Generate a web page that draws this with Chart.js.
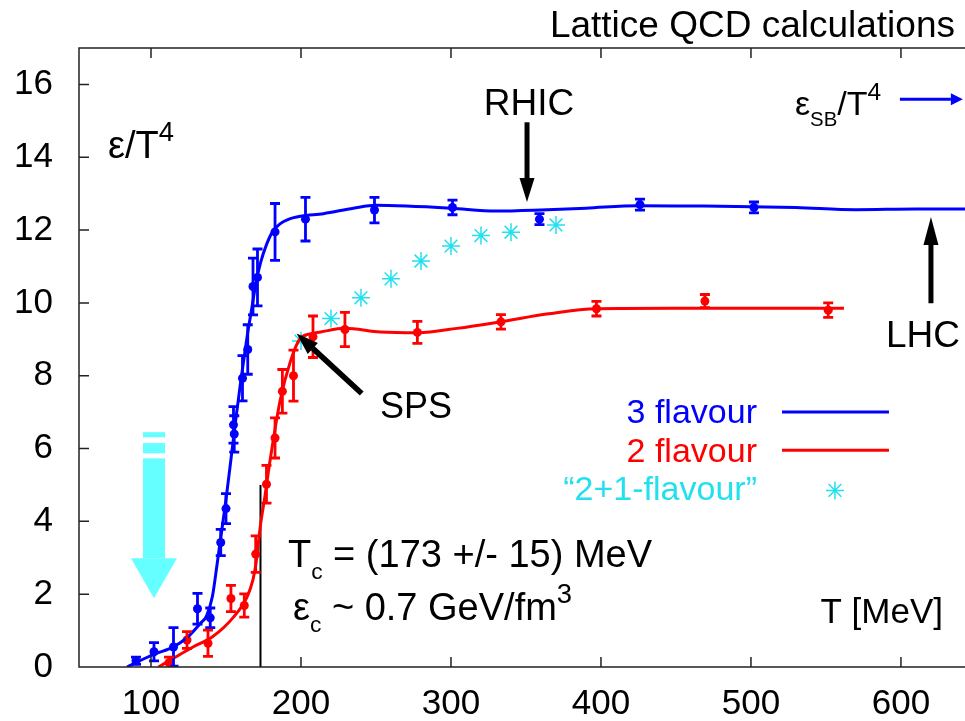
<!DOCTYPE html>
<html>
<head>
<meta charset="utf-8">
<script src="https://cdn.jsdelivr.net/npm/chart.js@4.4.1/dist/chart.umd.min.js"></script>
<style>
html, body { margin: 0; padding: 0; background: #fff; overflow: hidden; }
#chart { display: block; }
</style>
</head>
<body>
<canvas id="chart" width="965" height="721"></canvas>
<script>
// Energy density eps/T^4 vs temperature T from lattice QCD
const xTicks = [100, 200, 300, 400, 500, 600];
const yTicks = [0, 2, 4, 6, 8, 10, 12, 14, 16];

// 3 flavour lattice points
const blueT   = [90, 102, 115, 131, 139.5, 146.5, 150, 155, 155.5, 161, 164.5, 168, 171, 182.7, 203, 249, 301, 359, 426, 502];
const blueE   = [0.17, 0.42, 0.55, 1.6, 1.35, 3.42, 4.35, 6.65, 6.4, 7.93, 8.72, 10.45, 10.7, 11.95, 12.3, 12.55, 12.62, 12.3, 12.7, 12.62];
const blueErr = [0.1, 0.25, 0.53, 0.42, 0.27, 0.36, 0.41, 0.5, 0.5, 0.62, 0.68, 0.78, 0.78, 0.78, 0.6, 0.35, 0.2, 0.15, 0.15, 0.15];

// 3 flavour fit curve
const blueFitT = [84, 95, 104, 112, 119, 126, 133, 137, 141, 144, 147, 150, 153, 157, 160, 164, 167, 170, 173, 177, 181, 186, 192, 200, 215, 235, 250, 270, 300, 330, 360, 390, 425, 460, 490, 530, 570, 610, 645];
const blueFitE = [0, 0.22, 0.38, 0.5, 0.65, 0.88, 1.2, 1.4, 1.95, 2.8, 3.7, 4.6, 5.6, 6.95, 7.9, 9.05, 9.8, 10.55, 11.1, 11.6, 11.95, 12.17, 12.3, 12.38, 12.45, 12.6, 12.68, 12.66, 12.6, 12.52, 12.55, 12.6, 12.67, 12.66, 12.65, 12.62, 12.56, 12.58, 12.58];

// 2 flavour lattice points
const redT   = [112, 124, 138, 153.3, 162.2, 169.8, 177, 182.7, 187.6, 195, 208, 229.3, 277.6, 333.3, 397, 469.3, 551.5];
const redE   = [0.12, 0.74, 0.65, 1.88, 1.69, 3.1, 5.02, 6.29, 7.57, 8.0, 9.07, 9.27, 9.19, 9.48, 9.84, 10.05, 9.8];
const redErr = [0.15, 0.23, 0.36, 0.36, 0.32, 0.5, 0.52, 0.55, 0.6, 0.7, 0.57, 0.47, 0.3, 0.2, 0.2, 0.18, 0.2];

// 2 flavour fit curve
const redFitT = [105, 115, 128, 141, 155, 164, 168, 170, 173, 176, 179, 186, 193, 199, 206, 213, 229, 253, 278, 304, 333, 365, 397, 448, 500, 562];
const redFitE = [0, 0.24, 0.55, 0.83, 1.37, 1.92, 2.4, 2.85, 3.9, 4.7, 5.57, 7.3, 8.4, 9.0, 9.15, 9.2, 9.3, 9.2, 9.18, 9.3, 9.48, 9.7, 9.84, 9.85, 9.85, 9.85];

// "2+1-flavour" points
const starT = [200, 220, 240, 260, 280, 300, 320, 340, 370];
const starE = [8.95, 9.57, 10.14, 10.66, 11.15, 11.56, 11.85, 11.94, 12.14];

// critical temperature marker
const tcT = 173;
const tcTop = 5.0;

const FONT = "'Liberation Sans', Arial, sans-serif";
const BLUE = '#0000ff';
const RED = '#ff0000';
const CYAN = '#22e0ee';

const pts = (xs, ys) => xs.map((v, i) => ({ x: v, y: ys[i] }));

const errorBars = {
  id: 'errorBars',
  afterDatasetsDraw(chart) {
    const { ctx, chartArea, scales: { x, y } } = chart;
    ctx.save();
    ctx.beginPath();
    ctx.rect(chartArea.left, chartArea.top, chartArea.right - chartArea.left, chartArea.bottom - chartArea.top);
    ctx.clip();
    chart.data.datasets.forEach(ds => {
      if (!ds.errors) return;
      ctx.strokeStyle = ds.borderColor;
      ctx.lineWidth = 2.8;
      ds.data.forEach((p, i) => {
        const px = x.getPixelForValue(p.x);
        const lo = y.getPixelForValue(p.y - ds.errors[i]);
        const hi = y.getPixelForValue(p.y + ds.errors[i]);
        ctx.beginPath();
        ctx.moveTo(px, lo); ctx.lineTo(px, hi);
        ctx.moveTo(px - 5, lo); ctx.lineTo(px + 5, lo);
        ctx.moveTo(px - 5, hi); ctx.lineTo(px + 5, hi);
        ctx.stroke();
      });
    });
    ctx.restore();
  }
};

// text with sub/superscripts: parts = [[text, mode]], mode 0 normal, 1 sub, 2 sup
function richText(ctx, x, y, parts, size, color, align) {
  ctx.save();
  ctx.fillStyle = color;
  ctx.textBaseline = 'alphabetic';
  ctx.textAlign = 'left';
  const sz = m => (m === 1 ? size * 0.6 : m === 2 ? size * 0.72 : size);
  let total = 0;
  parts.forEach(([t, m]) => { ctx.font = sz(m) + 'px ' + FONT; total += ctx.measureText(t).width; });
  let cx = align === 'right' ? x - total : align === 'center' ? x - total / 2 : x;
  parts.forEach(([t, m]) => {
    ctx.font = sz(m) + 'px ' + FONT;
    const dy = m === 1 ? size * 0.3 : m === 2 ? -size * 0.45 : 0;
    ctx.fillText(t, cx, y + dy);
    cx += ctx.measureText(t).width;
  });
  ctx.restore();
}

function arrow(ctx, x1, y1, x2, y2, lw, headLen, headW, color) {
  const a = Math.atan2(y2 - y1, x2 - x1);
  const bx = x2 - Math.cos(a) * headLen, by = y2 - Math.sin(a) * headLen;
  ctx.save();
  ctx.strokeStyle = color; ctx.fillStyle = color; ctx.lineWidth = lw;
  ctx.beginPath(); ctx.moveTo(x1, y1); ctx.lineTo(bx, by); ctx.stroke();
  ctx.beginPath();
  ctx.moveTo(x2, y2);
  ctx.lineTo(bx + Math.sin(a) * headW / 2, by - Math.cos(a) * headW / 2);
  ctx.lineTo(bx - Math.sin(a) * headW / 2, by + Math.cos(a) * headW / 2);
  ctx.closePath(); ctx.fill();
  ctx.restore();
}

const decorations = {
  id: 'decorations',
  beforeDatasetsDraw(chart) {
    const { ctx, scales: { x, y } } = chart;
    // Tc vertical line
    ctx.save();
    ctx.strokeStyle = '#000'; ctx.lineWidth = 2;
    ctx.beginPath();
    ctx.moveTo(x.getPixelForValue(tcT), y.getPixelForValue(0));
    ctx.lineTo(x.getPixelForValue(tcT), y.getPixelForValue(tcTop));
    ctx.stroke();
    ctx.restore();
  },
  afterDraw(chart) {
    const { ctx, chartArea: a, scales: { x, y } } = chart;
    const X = v => x.getPixelForValue(v), Y = v => y.getPixelForValue(v);

    // frame with inward ticks
    ctx.save();
    ctx.strokeStyle = '#222'; ctx.lineWidth = 1.5;
    ctx.beginPath();
    ctx.moveTo(a.right + 2, a.top); ctx.lineTo(a.left, a.top);
    ctx.lineTo(a.left, a.bottom); ctx.lineTo(a.right + 2, a.bottom);
    x.ticks.forEach(t => {
      const px = X(t.value);
      ctx.moveTo(px, a.bottom); ctx.lineTo(px, a.bottom - 10);
      ctx.moveTo(px, a.top); ctx.lineTo(px, a.top + 10);
    });
    y.ticks.forEach(t => {
      const py = Y(t.value);
      ctx.moveTo(a.left, py); ctx.lineTo(a.left + 10, py);
    });
    ctx.stroke();
    ctx.restore();

    // title
    richText(ctx, 955, 37, [['Lattice QCD calculations', 0]], 37, '#000', 'right');

    // axis labels
    richText(ctx, X(71.3), Y(13.97), [['ε/T', 0], ['4', 2]], 38, '#000', 'left');
    richText(ctx, X(628), Y(1.2), [['T [MeV]', 0]], 35, '#000', 'right');

    // RHIC
    richText(ctx, X(352), Y(15.15), [['RHIC', 0]], 37, '#000', 'center');
    arrow(ctx, X(350.7), Y(14.96), X(350.7), Y(12.77), 5, 24, 15, '#000');

    // LHC
    richText(ctx, X(614.7), Y(8.78), [['LHC', 0]], 37, '#000', 'center');
    arrow(ctx, X(620), Y(9.99), X(620), Y(12.36), 5, 28, 15, '#000');

    // SPS
    richText(ctx, X(252.7), Y(6.83), [['SPS', 0]], 36, '#000', 'left');
    arrow(ctx, X(240.5), Y(7.51), X(197.1), Y(9.16), 5.5, 22, 15, '#000');

    // Stefan-Boltzmann limit
    richText(ctx, X(529.3), Y(15.15), [['ε', 0], ['SB', 1], ['/T', 0], ['4', 2]], 34, '#000', 'left');
    arrow(ctx, X(599.3), Y(15.59), X(641.3), Y(15.59), 3, 12, 12, BLUE);

    // Tc text
    richText(ctx, X(191.3), Y(2.74), [['T', 0], ['c', 1], [' = (173 +/- 15) MeV', 0]], 38, '#000', 'left');
    richText(ctx, X(194.7), Y(1.28), [['ε', 0], ['c', 1], [' ~ 0.7 GeV/fm', 0], ['3', 2]], 38, '#000', 'left');

    // legend
    richText(ctx, X(504), Y(6.69), [['3 flavour', 0]], 34, BLUE, 'right');
    richText(ctx, X(504), Y(5.62), [['2 flavour', 0]], 34, RED, 'right');
    richText(ctx, X(504), Y(4.58), [['\u201C2+1-flavour\u201D', 0]], 34, CYAN, 'right');
    ctx.save();
    ctx.lineWidth = 3;
    ctx.strokeStyle = BLUE;
    ctx.beginPath(); ctx.moveTo(X(520.7), Y(7.0)); ctx.lineTo(X(592), Y(7.0)); ctx.stroke();
    ctx.strokeStyle = RED;
    ctx.beginPath(); ctx.moveTo(X(520.7), Y(5.95)); ctx.lineTo(X(592), Y(5.95)); ctx.stroke();
    ctx.strokeStyle = CYAN;
    ctx.fillStyle = CYAN;
    ctx.lineWidth = 1.5;
    Chart.helpers.drawPoint(ctx, { pointStyle: 'star', radius: 9, borderWidth: 1.5 }, X(556), Y(4.85));
    ctx.restore();

    // cyan arrow
    const cx = X(102);
    ctx.save();
    ctx.fillStyle = '#66ffff';
    ctx.fillRect(cx - 11, Y(6.45), 22, Y(6.31) - Y(6.45));
    ctx.fillRect(cx - 11, Y(6.15), 22, Y(5.87) - Y(6.15));
    ctx.fillRect(cx - 11, Y(5.73), 22, Y(2.99) - Y(5.73));
    ctx.beginPath();
    ctx.moveTo(cx - 23, Y(2.99)); ctx.lineTo(cx + 23, Y(2.99)); ctx.lineTo(cx, Y(1.89));
    ctx.closePath(); ctx.fill();
    ctx.restore();
  }
};

const ctx = document.getElementById('chart');

new Chart(ctx, {
  type: 'scatter',
  data: {
    datasets: [
      {
        label: '3 flavour fit',
        data: pts(blueFitT, blueFitE),
        showLine: true,
        borderColor: BLUE,
        borderWidth: 3,
        pointRadius: 0,
        cubicInterpolationMode: 'monotone'
      },
      {
        label: '2 flavour fit',
        data: pts(redFitT, redFitE),
        showLine: true,
        borderColor: RED,
        borderWidth: 3,
        pointRadius: 0,
        cubicInterpolationMode: 'monotone'
      },
      {
        label: '2+1-flavour',
        data: pts(starT, starE),
        pointStyle: 'star',
        pointRadius: 9,
        borderWidth: 1.5,
        borderColor: CYAN,
        backgroundColor: CYAN
      },
      {
        label: '3 flavour',
        data: pts(blueT, blueE),
        errors: blueErr,
        pointRadius: 4.5,
        borderWidth: 0,
        borderColor: BLUE,
        backgroundColor: BLUE
      },
      {
        label: '2 flavour',
        data: pts(redT, redE),
        errors: redErr,
        pointRadius: 4.5,
        borderWidth: 0,
        borderColor: RED,
        backgroundColor: RED
      }
    ]
  },
  options: {
    responsive: false,
    animation: false,
    layout: { autoPadding: false, padding: { top: 48, right: 0, left: 0, bottom: 0 } },
    plugins: {
      legend: { display: false },
      tooltip: { enabled: false }
    },
    scales: {
      x: {
        type: 'linear',
        min: 52,
        max: 642.7,
        grid: { display: false, drawTicks: false },
        border: { display: false },
        afterBuildTicks: s => { s.ticks = xTicks.map(v => ({ value: v })); },
        ticks: { color: '#000', font: { family: FONT, size: 35 }, padding: 16, maxRotation: 0, autoSkip: false },
        afterFit: s => { s.height = 54; s.paddingLeft = 0; s.paddingRight = 0; }
      },
      y: {
        type: 'linear',
        min: 0,
        max: 17,
        grid: { display: false, drawTicks: false },
        border: { display: false },
        afterBuildTicks: s => { s.ticks = yTicks.map(v => ({ value: v })); },
        ticks: { color: '#000', font: { family: FONT, size: 35 }, padding: 26, autoSkip: false },
        afterFit: s => { s.width = 79; s.paddingTop = 0; s.paddingBottom = 0; }
      }
    }
  },
  plugins: [decorations, errorBars]
});
</script>
</body>
</html>
